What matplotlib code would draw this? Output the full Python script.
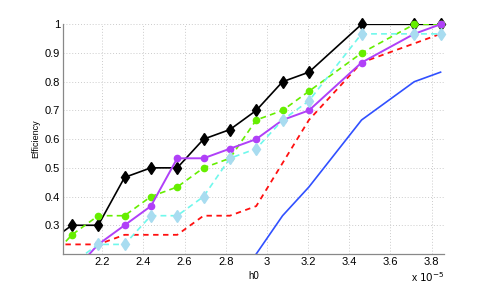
import numpy as np
import matplotlib.pyplot as plt

plt.rcParams['font.family'] = ['Liberation Sans', 'DejaVu Sans']

# h0 values (units of 1e-5)
h0 = [1.924, 2.052, 2.18, 2.308, 2.436, 2.564, 2.692, 2.82, 2.948, 3.076, 3.204, 3.46, 3.716, 3.844]

eff_black = [0.2333, 0.3, 0.3, 0.4667, 0.5, 0.5, 0.6, 0.6333, 0.7, 0.8, 0.8333, 1.0, 1.0, 1.0]
eff_green = [0.1667, 0.2667, 0.3333, 0.3333, 0.4, 0.4333, 0.5, 0.5333, 0.6667, 0.7, 0.7667, 0.9, 1.0, 1.0]
eff_magenta = [0.1, 0.1333, 0.2333, 0.3, 0.3667, 0.5333, 0.5333, 0.5667, 0.6, 0.6667, 0.7, 0.8667, 0.9667, 1.0]
eff_cyan = [0.1, 0.1667, 0.2333, 0.2333, 0.3333, 0.3333, 0.4, 0.5333, 0.5667, 0.6667, 0.7333, 0.9667, 0.9667, 0.9667]
eff_red = [0.2333, 0.2333, 0.2333, 0.2667, 0.2667, 0.2667, 0.3333, 0.3333, 0.3667, 0.5167, 0.6667, 0.8667, 0.9333, 0.9667]
eff_blue = [0.0, 0.0, 0.0, 0.0, 0.0, 0.0, 0.0, 0.1, 0.2, 0.3333, 0.4333, 0.6667, 0.8, 0.8333]

xticks = [2.2, 2.4, 2.6, 2.8, 3.0, 3.2, 3.4, 3.6, 3.8]
xticklabels = ['2.2', '2.4', '2.6', '2.8', '3', '3.2', '3.4', '3.6', '3.8']
yticks = [0.3, 0.4, 0.5, 0.6, 0.7, 0.8, 0.9, 1.0]
yticklabels = ['0.3', '0.4', '0.5', '0.6', '0.7', '0.8', '0.9', '1']

xlim = (2.008, 3.86)
ylim = (0.2, 1.0)

fig = plt.figure(figsize=(4.91, 2.86), dpi=100)
ax = fig.add_axes([0.128, 0.112, 0.776, 0.803])


def series(y, color, ls, lw, marker=None, ms=5, mfc=None, dashes=None):
    kw = dict(color=color, lw=lw)
    if dashes:
        kw['dashes'] = dashes
    ax.plot(h0, y, ls, **kw)
    if marker:
        # markers drawn unclipped so the ones sitting on y=1 show whole
        x = np.array(h0)
        yy = np.array(y)
        keep = (x >= xlim[0]) & (yy >= ylim[0])
        ax.plot(x[keep], yy[keep], linestyle='none', marker=marker, ms=ms,
                mfc=mfc or color, mec=mfc or color, clip_on=False)


series(eff_blue, '#3050ff', '-', 1.2)
series(eff_red, '#ff1010', '--', 1.3, dashes=(3, 2.5))
series(eff_black, 'black', '-', 1.2, marker='d', ms=6)
series(eff_green, '#66ee00', '--', 1.2, marker='o', ms=4.5, dashes=(3.5, 2.5))
series(eff_magenta, '#b040f8', '-', 1.4, marker='o', ms=4.5)
series(eff_cyan, '#70f8ec', '--', 1.2, marker='d', ms=6.5, mfc='#a8dcf0', dashes=(3.5, 2.5))

ax.set_xlim(*xlim)
ax.set_ylim(*ylim)
ax.set_xticks(xticks)
ax.set_xticklabels(xticklabels)
ax.set_yticks(yticks)
ax.set_yticklabels(yticklabels)
ax.tick_params(labelsize=8, length=0, pad=2)
ax.grid(True, linestyle=(0, (1, 2)), color='#cccccc', lw=0.7)
for s in ['top', 'right']:
    ax.spines[s].set_visible(False)
for s in ['left', 'bottom']:
    ax.spines[s].set_color('#888888')
    ax.spines[s].set_linewidth(0.9)

ax.set_xlabel('h0', fontsize=7, labelpad=3)
ax.set_ylabel('Efficiency', fontsize=6.5, labelpad=3)
fig.text(0.905, 0.015, r'x $10^{-5}$', fontsize=7.5, ha='right')

fig.savefig('out.png', dpi=100)
